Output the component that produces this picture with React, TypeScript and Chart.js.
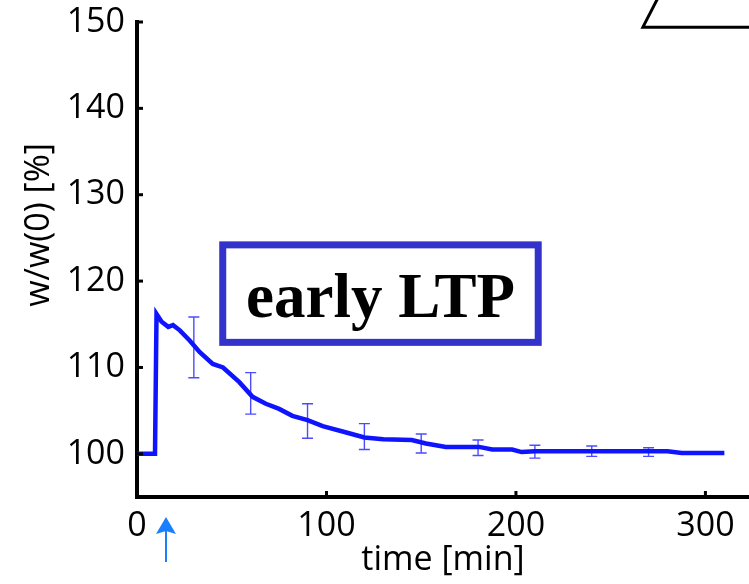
import React, { useEffect, useRef } from 'react';
import { Chart, registerables } from 'chart.js';

Chart.register(...registerables);

// ---- data ----
const timeMin = [0, 9.5, 10.3, 13, 16.5, 19, 22.6, 27.9, 33, 40, 45.4, 54, 61, 68, 75, 82, 90, 98, 110, 120, 130, 145, 152.5, 163, 180.5, 187.5, 198, 203, 210, 221, 250, 280, 287.5, 310];
const weightPct = [100, 100, 116.2, 115.3, 114.7, 114.9, 114.3, 113.1, 111.8, 110.4, 110.0, 108.3, 106.6, 105.8, 105.2, 104.4, 103.9, 103.2, 102.5, 101.9, 101.7, 101.6, 101.2, 100.8, 100.8, 100.5, 100.5, 100.2, 100.3, 100.3, 100.3, 100.3, 100.1, 100.1];

const errTime = [30, 60, 90, 120, 150, 180, 210, 240, 270];
const errLow = [108.8, 104.6, 101.8, 100.5, 100.1, 99.8, 99.5, 99.7, 99.7];
const errHigh = [115.85, 109.4, 105.8, 103.5, 102.3, 101.6, 101.0, 100.9, 100.7];

const xTicks = [0, 100, 200, 300];
const yTicks = [100, 110, 120, 130, 140, 150];
const xRange = [0, 323];
const yRange = [95, 150];

const xLabel = 'time [min]';
const yLabel = 'w/w(0) [%]';
const boxText = 'early LTP';
const boxTime = [43.4, 213.6];
const boxWeight = [112.5, 124.6];
const stimArrowTime = 15.3;
const insetCorner = [267, 149.4];
const yLabelAt = 126.5; // y value at which the y title is centred

const FONT = '"Open Sans", "DejaVu Sans", sans-serif';
const FSIZE = 34;

const overlay = {
  id: 'overlay',
  beforeDatasetsDraw(chart: any) {
    const { ctx, scales } = chart;
    const xs = scales.x, ys = scales.y;
    ctx.save();
    ctx.strokeStyle = 'rgba(30,30,255,0.8)';
    ctx.lineWidth = 1.4;
    errTime.forEach((t, i) => {
      const x = xs.getPixelForValue(t);
      const y1 = ys.getPixelForValue(errLow[i]);
      const y2 = ys.getPixelForValue(errHigh[i]);
      const cap = 5.5;
      ctx.beginPath();
      ctx.moveTo(x, y1); ctx.lineTo(x, y2);
      ctx.moveTo(x - cap, y1); ctx.lineTo(x + cap, y1);
      ctx.moveTo(x - cap, y2); ctx.lineTo(x + cap, y2);
      ctx.stroke();
    });
    ctx.restore();
  },
  afterDraw(chart: any) {
    const { ctx, scales, chartArea } = chart;
    const xs = scales.x, ys = scales.y;
    ctx.save();
    // inward ticks
    ctx.strokeStyle = '#000';
    ctx.lineWidth = 3;
    yTicks.forEach((v) => {
      const y = ys.getPixelForValue(v);
      ctx.beginPath();
      ctx.moveTo(chartArea.left, y);
      ctx.lineTo(chartArea.left + 6, y);
      ctx.stroke();
    });
    xTicks.forEach((v) => {
      const x = xs.getPixelForValue(v);
      ctx.beginPath();
      ctx.moveTo(x, chartArea.bottom);
      ctx.lineTo(x, chartArea.bottom - 6);
      ctx.stroke();
    });

    // y axis title
    ctx.save();
    ctx.translate(39, ys.getPixelForValue(yLabelAt));
    ctx.rotate(-Math.PI / 2);
    ctx.fillStyle = '#000';
    ctx.font = `${FSIZE}px ${FONT}`;
    ctx.textAlign = 'center';
    ctx.textBaseline = 'middle';
    ctx.fillText(yLabel, 0, 0);
    ctx.restore();

    // annotation box
    const bx1 = xs.getPixelForValue(boxTime[0]);
    const bx2 = xs.getPixelForValue(boxTime[1]);
    const by1 = ys.getPixelForValue(boxWeight[1]);
    const by2 = ys.getPixelForValue(boxWeight[0]);
    const bw = 7;
    ctx.fillStyle = '#fff';
    ctx.fillRect(bx1, by1, bx2 - bx1, by2 - by1);
    ctx.strokeStyle = '#3333cc';
    ctx.lineWidth = bw;
    ctx.strokeRect(bx1 + bw / 2, by1 + bw / 2, bx2 - bx1 - bw, by2 - by1 - bw);
    ctx.fillStyle = '#000';
    ctx.font = 'bold 63px "Liberation Serif", "Times New Roman", serif';
    ctx.textAlign = 'center';
    ctx.textBaseline = 'alphabetic';
    ctx.fillText(boxText, (bx1 + bx2) / 2, by1 + 76);

    // stimulus arrow
    const ax = xs.getPixelForValue(stimArrowTime);
    const tip = chartArea.bottom + 20;
    ctx.fillStyle = '#1a7fff';
    ctx.strokeStyle = '#1a7fff';
    ctx.beginPath();
    ctx.moveTo(ax, tip);
    ctx.lineTo(ax - 10, tip + 17);
    ctx.lineTo(ax, tip + 14);
    ctx.lineTo(ax + 10, tip + 17);
    ctx.closePath();
    ctx.fill();
    ctx.lineWidth = 2;
    ctx.beginPath();
    ctx.moveTo(ax, tip + 10);
    ctx.lineTo(ax, tip + 45);
    ctx.stroke();

    // corner of neighbouring inset
    const cx = xs.getPixelForValue(insetCorner[0]);
    const cy = ys.getPixelForValue(insetCorner[1]);
    ctx.strokeStyle = '#000';
    ctx.lineWidth = 3;
    ctx.lineJoin = 'miter';
    ctx.beginPath();
    ctx.moveTo(cx + 15, -2);
    ctx.lineTo(cx, cy);
    ctx.lineTo(chart.width + 5, cy);
    ctx.stroke();
    ctx.restore();
  },
};

export default function App() {
  const ref = useRef<HTMLCanvasElement | null>(null);
  useEffect(() => {
    if (!ref.current) return;
    const chart = new Chart(ref.current, {
      type: 'scatter',
      data: {
        datasets: [
          {
            data: timeMin.map((t, i) => ({ x: t, y: weightPct[i] })),
            showLine: true,
            borderColor: '#0f14ff',
            borderWidth: 4.5,
            pointRadius: 0,
            tension: 0,
            fill: false,
          },
        ],
      },
      options: {
        responsive: false,
        animation: false,
        layout: { padding: { top: 22, right: 0, left: 0, bottom: 0 } },
        plugins: { legend: { display: false }, tooltip: { enabled: false } },
        scales: {
          x: {
            type: 'linear',
            position: 'bottom',
            min: xRange[0],
            max: xRange[1],
            afterBuildTicks: (s: any) => { s.ticks = xTicks.map((v) => ({ value: v })); },
            afterFit: (s: any) => { s.height = 87; s.paddingLeft = 0; s.paddingRight = 0; },
            grid: { display: false, drawTicks: false },
            border: { display: true, color: '#000', width: 4 },
            ticks: { color: '#000', font: { family: FONT, size: FSIZE }, padding: 9, maxRotation: 0, autoSkip: false, callback: (v: any) => String(v) },
            title: { display: true, text: xLabel, color: '#000', font: { family: FONT, size: FSIZE }, padding: { top: 0, bottom: 3 } },
          },
          y: {
            type: 'linear',
            position: 'left',
            min: yRange[0],
            max: yRange[1],
            afterBuildTicks: (s: any) => { s.ticks = yTicks.map((v) => ({ value: v })); },
            afterFit: (s: any) => { s.width = 137; s.paddingTop = 0; s.paddingBottom = 0; },
            grid: { display: false, drawTicks: false },
            border: { display: true, color: '#000', width: 4 },
            ticks: { color: '#000', font: { family: FONT, size: FSIZE }, padding: 12, autoSkip: false, callback: (v: any) => String(v) },
            title: { display: false },
          },
        },
      },
      plugins: [overlay],
    } as any);
    return () => chart.destroy();
  }, []);
  return (
    <div style={{ position: 'absolute', left: 0, top: 0, width: 749, height: 584, background: '#fff' }}>
      <canvas ref={ref} width={749} height={584} style={{ display: 'block' }} />
    </div>
  );
}
